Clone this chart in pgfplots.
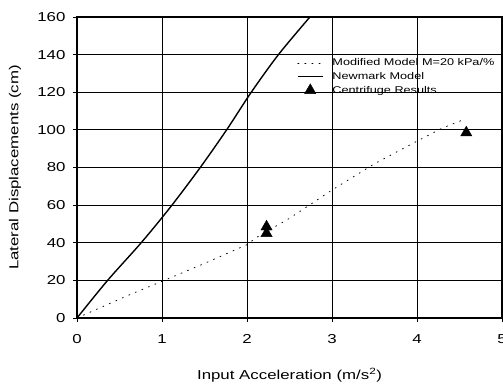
\documentclass[border=0pt]{standalone}
\usepackage{fontspec}
\setmainfont[FakeStretch=1.3]{Liberation Sans}
\usepackage{pgfplots}
\pgfplotsset{compat=1.18}
\begin{document}
\begin{tikzpicture}[x=1bp,y=1bp]
\begin{axis}[
  at={(77bp,67bp)}, anchor=south west,
  scale only axis, width=425bp, height=301bp,
  xmin=0, xmax=5, ymin=0, ymax=160,
  xtick={0,1,2,3,4,5}, ytick={0,20,40,60,80,100,120,140,160},
  grid=major, major grid style={black, line width=0.8pt},
  axis line style={line width=1.8pt},
  tick style={black, line width=0.8pt},
  tick align=outside, major tick length=4bp,
  xtick pos=bottom, ytick pos=left,
  /pgf/number format/assume math mode=true,
  ticklabel style={font=\fontsize{13}{15}\selectfont},
  xticklabel style={yshift=-9bp},
  yticklabel style={xshift=-4bp},
  xlabel={Input Acceleration (m/s\textsuperscript{2})},
  ylabel={Lateral Displacements (cm)},
  label style={font=\fontsize{13}{15}\selectfont},
  xlabel style={at={(axis description cs:0.5,-0.19)}, anchor=center},
  ylabel style={at={(axis description cs:-0.146,0.5)}, anchor=center},
  legend style={draw=none, fill=none, at={(0.515,0.872)}, anchor=north west,
    font=\fontsize{9.8}{11}\selectfont, row sep=1bp, column sep=7bp, inner sep=1bp},
  legend cell align=left,
  legend image code/.code={\draw[mark repeat=2,mark phase=2,#1] plot coordinates {(0bp,0bp) (12.5bp,0bp) (25bp,0bp)};},
  clip=true,
]
\addplot[black, line width=0.8pt, dash pattern=on 1.1pt off 6pt, line cap=round]
  coordinates {(0,0) (0.3,6) (0.6,12) (1,19.5) (1.5,29) (2,39) (2.1,42.5) (2.5,53) (3,68) (3.5,82) (4,94) (4.3,101) (4.55,105.5)};
\addlegendentry{Modified Model M=20 kPa/\%}
\addplot[black, line width=1.4pt, smooth]
  coordinates {(0,0) (0.36,20) (0.755,40) (1.1,59) (1.45,80) (1.76,100) (2.05,120) (2.37,140) (2.74,160) (2.8,163)};
\addlegendentry{Newmark Model}
\addplot[only marks, mark=triangle*, mark size=6.5bp, black]
  coordinates {(2.23,48.5) (2.23,45) (4.58,98.5)};
\addlegendentry{Centrifuge Results}
\end{axis}
\pgfresetboundingbox
\useasboundingbox (0,0) rectangle (503bp,385bp);
\end{tikzpicture}
\end{document}
